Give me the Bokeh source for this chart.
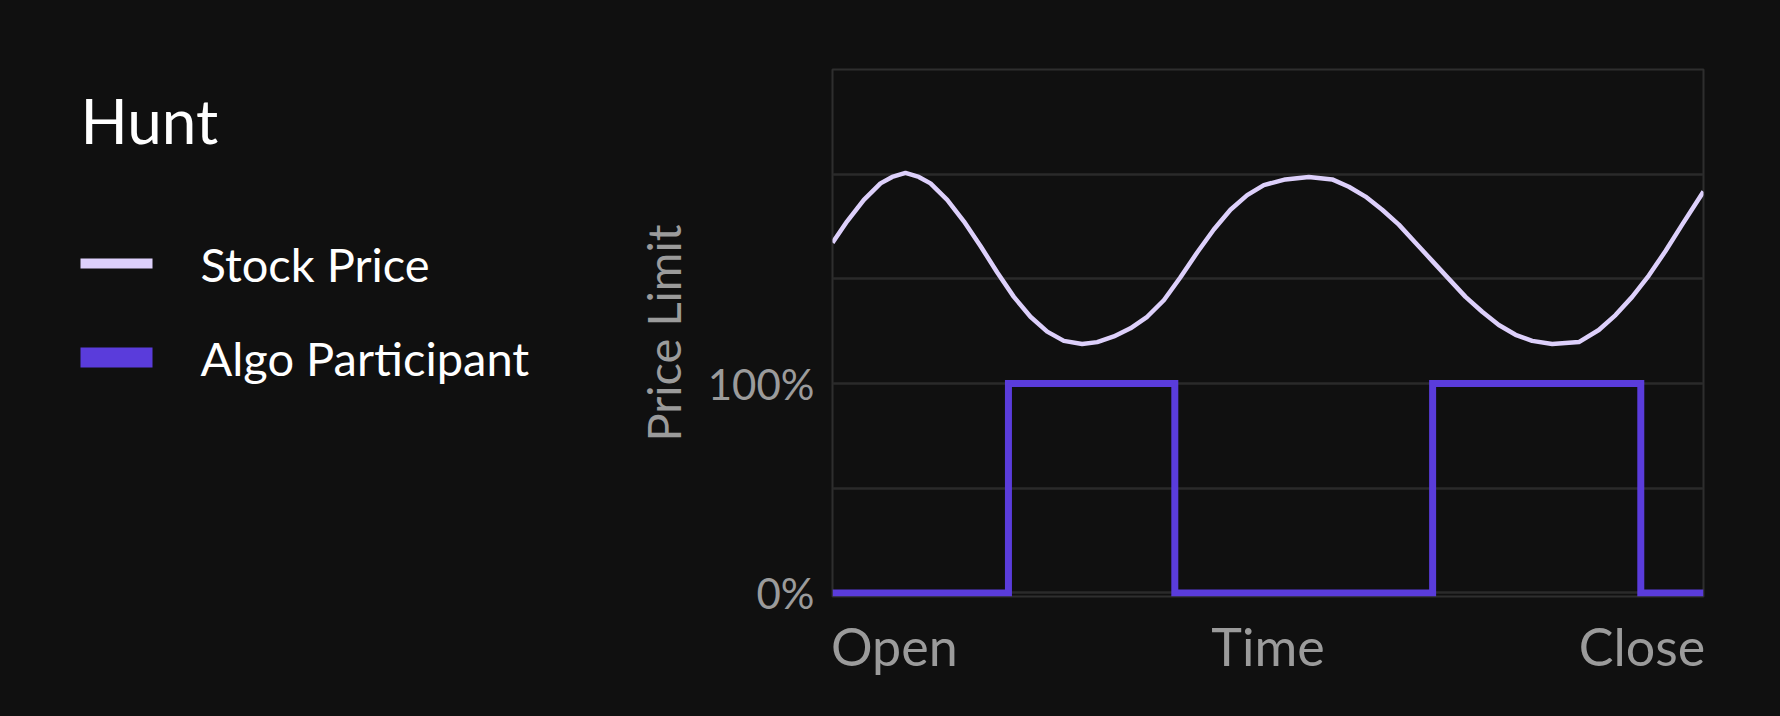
from bokeh.plotting import figure
from bokeh.layouts import row
from bokeh.models import FixedTicker, Range1d
from bokeh.core.properties import value
from bokeh.embed import file_html
from bokeh.resources import INLINE

# ---------------- data ----------------
title_text = "Hunt"
series_names = ["Stock Price", "Algo Participant"]

# time as % of trading session (Open = 0, Close = 100)
stock_time = [0, 1.68, 3.6, 5.51, 6.85, 8.38, 9.91, 11.25, 13.17, 15.08, 16.99,
              18.9, 20.82, 22.73, 24.65, 26.56, 28.66, 30.39, 32.3, 34.21, 36.13,
              38.04, 39.95, 41.87, 43.78, 45.69, 47.61, 49.52, 52.0, 54.69, 57.37,
              59.28, 61.19, 63.11, 65.02, 66.93, 68.85, 70.76, 72.68, 74.59, 76.5,
              78.42, 80.33, 82.63, 85.69, 87.98, 89.9, 91.81, 93.72, 95.64, 97.55,
              100]
stock_price = [167.3, 177.5, 187.7, 195.6, 198.7, 200.6, 198.7, 195.6, 187.7, 177.5,
               165.7, 153.2, 141.4, 131.9, 124.8, 120.4, 118.9, 119.8, 122.5, 126.4,
               131.9, 139.8, 150.8, 162.6, 173.6, 183.0, 190.0, 194.8, 197.5, 198.7,
               197.5, 194.0, 189.3, 183.0, 175.9, 167.3, 158.6, 150.0, 141.4, 134.3,
               128.0, 123.3, 120.4, 118.9, 119.8, 125.6, 132.7, 141.4, 151.6, 163.3,
               175.9, 191.7]

algo_time = [0, 20.2, 39.3, 68.9, 92.8, 100]
algo_level = [0, 100, 0, 100, 0, 0]

y_ticks = [0, 100]
y_tick_labels = ["0%", "100%"]
grid_values = [0, 50, 100, 150, 200]
x_tick_labels = ["Open", "Time", "Close"]
x_tick_anchor = [7.1, 50, 92.95]   # centre of each label along the time axis
y_axis_title = "Price Limit"

# ---------------- style ----------------
BG = "#101010"
GRID = "#2a2a2a"
OUTLINE = "#2e2e2e"
MUTED = "#9b9b9b"
WHITE = "#ffffff"
STOCK_C = "#ddd0fb"
ALGO_C = "#5a3cdb"
FONT = "Lato"

W, H = 1780, 716
LW = 600
TOP, BOTTOM = 69, 120          # frame borders (px)
Y_START, Y_END = -1.7, 250

# ---------------- left panel: title + legend ----------------
left = figure(width=LW, height=H, x_range=Range1d(0, LW),
              y_range=Range1d(H - BOTTOM, TOP),
              x_axis_type=None, y_axis_type=None, toolbar_location=None,
              output_backend="svg", title=None, min_border_left=0,
              min_border_right=0, min_border_top=TOP, min_border_bottom=BOTTOM)
left.background_fill_color = BG
left.border_fill_color = BG
left.outline_line_color = None
left.grid.visible = False

left.text(x=[80], y=[119], text=[title_text], text_color=WHITE,
          text_font=value(FONT), text_font_size=value("62px"),
          text_baseline="alphabetic", text_align="left")

sw_top = [258, 347]
sw_bottom = [268, 367]
left.quad(left=[80, 80], right=[152, 152], top=sw_top, bottom=sw_bottom,
          fill_color=[STOCK_C, ALGO_C], line_color=None)
left.text(x=[200, 200], y=[263, 357], text=series_names, text_color=WHITE,
          text_font=value(FONT), text_font_size=value("47px"),
          text_baseline="alphabetic", text_align="left")

# ---------------- main chart ----------------
p = figure(width=W - LW, height=H, x_range=Range1d(0, 100),
           y_range=Range1d(Y_START, Y_END), toolbar_location=None,
           output_backend="svg", title=None,
           min_border_left=232, min_border_right=77,
           min_border_top=TOP, min_border_bottom=BOTTOM)
p.background_fill_color = BG
p.border_fill_color = BG
p.outline_line_color = OUTLINE
p.outline_line_width = 2

p.xgrid.visible = False
p.ygrid.ticker = FixedTicker(ticks=grid_values)
p.ygrid.grid_line_color = GRID
p.ygrid.grid_line_width = 2.5

xa = p.xaxis[0]
xa.ticker = FixedTicker(ticks=x_tick_anchor)
xa.major_label_overrides = {t: l for t, l in zip(x_tick_anchor, x_tick_labels)}
xa.axis_line_color = None
xa.major_tick_line_color = None
xa.minor_tick_line_color = None
xa.major_label_standoff = 12
xa.major_label_text_font = FONT
xa.major_label_text_font_size = "52px"
xa.major_label_text_color = MUTED

ya = p.yaxis[0]
ya.ticker = FixedTicker(ticks=y_ticks)
ya.major_label_overrides = {t: l for t, l in zip(y_ticks, y_tick_labels)}
ya.axis_line_color = None
ya.major_tick_line_color = None
ya.minor_tick_line_color = None
ya.major_label_standoff = 12
ya.major_label_text_font = FONT
ya.major_label_text_font_size = "42px"
ya.major_label_text_color = MUTED
ya.axis_label = y_axis_title
ya.axis_label_text_font = FONT
ya.axis_label_text_font_size = "47px"
ya.axis_label_text_font_style = "normal"
ya.axis_label_text_color = MUTED
ya.axis_label_standoff = 14

p.line(stock_time, stock_price, line_color=STOCK_C, line_width=4.5,
       line_join="round")
p.step(algo_time, algo_level, mode="after", line_color=ALGO_C, line_width=7,
       line_join="miter")

layout = row(left, p, spacing=0)
html = file_html(layout, INLINE)
html = html.replace("<head>", "<head><style>html,body{background:#101010;}</style>", 1)
open("out.html", "w").write(html)
